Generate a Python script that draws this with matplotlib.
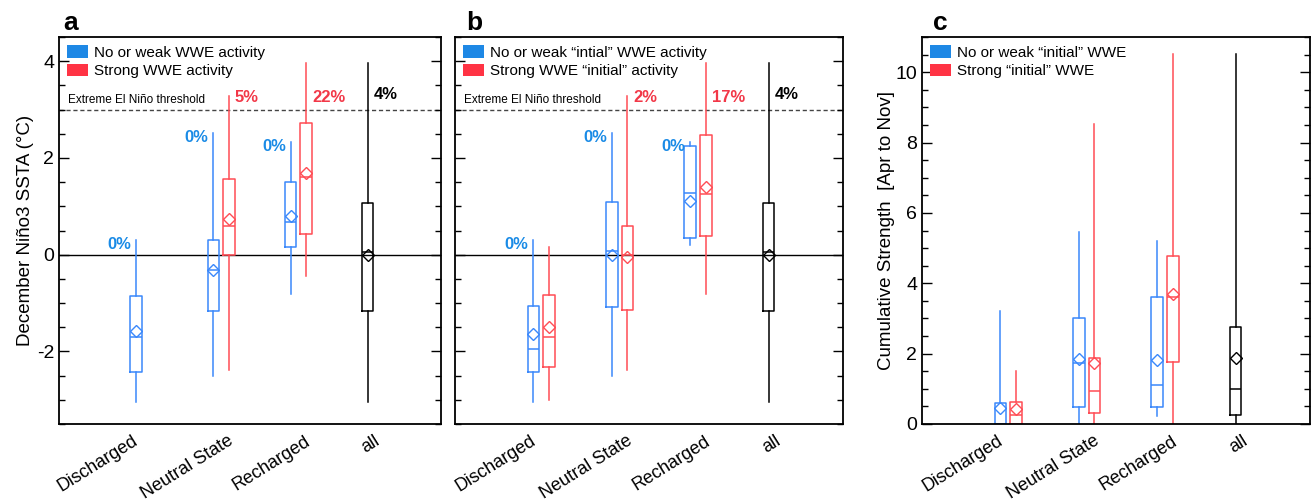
import matplotlib
matplotlib.use("Agg")
import matplotlib.pyplot as plt
from matplotlib.patches import Patch
from matplotlib.ticker import MultipleLocator

plt.rcParams["font.family"] = ["Liberation Sans", "DejaVu Sans"]
plt.rcParams["axes.unicode_minus"] = False

# ── Data (whisker low, q1, median, q3, whisker high, mean) ─────────

categories = ["Discharged", "Neutral State", "Recharged", "all"]

a_weak = [(-3.05, -2.43, -1.70, -0.86, 0.31, -1.57),
          (-2.50, -1.17, -0.31, 0.31, 2.52, -0.31),
          (-0.81, 0.16, 0.67, 1.50, 2.33, 0.80)]
a_strong = [None,
            (-2.38, 0.00, 0.59, 1.57, 3.28, 0.73),
            (-0.45, 0.43, 1.60, 2.73, 3.97, 1.68)]
b_weak = [(-3.05, -2.43, -1.94, -1.07, 0.31, -1.64),
          (-2.50, -1.08, 0.07, 1.08, 2.52, -0.01),
          (0.19, 0.34, 1.28, 2.24, 2.33, 1.10)]
b_strong = [(-3.00, -2.33, -1.70, -0.84, 0.16, -1.50),
            (-2.38, -1.15, 0.00, 0.59, 3.28, -0.05),
            (-0.81, 0.39, 1.26, 2.47, 3.97, 1.40)]
all_ssta = (-3.05, -1.17, 0.05, 1.07, 3.97, -0.01)

c_weak = [(0.00, 0.00, 0.00, 0.59, 3.21, 0.45),
          (0.00, 0.49, 1.72, 3.00, 5.47, 1.86),
          (0.24, 0.49, 1.11, 3.61, 5.20, 1.81)]
c_strong = [(0.00, 0.00, 0.25, 0.63, 1.51, 0.42),
            (0.00, 0.30, 0.94, 1.89, 8.53, 1.72),
            (0.00, 1.77, 3.61, 4.78, 10.53, 3.69)]
all_cws = (0.00, 0.27, 1.00, 2.77, 10.53, 1.89)

a_weak_pct = ["0%", "0%", "0%"]
a_strong_pct = [None, "5%", "22%"]
b_weak_pct = ["0%", "0%", "0%"]
b_strong_pct = [None, "2%", "17%"]
all_pct = "4%"

threshold = 3.0

# ── Style ───────────────────────────────────────────────────────────

BLUE = "#3a88fb"
RED = "#ff4d55"
BLUE_TXT = "#1a8be6"
RED_TXT = "#f23848"
BLUE_LEG = "#1e88e5"
RED_LEG = "#ff3344"

positions = [1.0, 2.0, 3.0, 3.9]
label_pos = [0.85, 2.08, 3.08, 3.98]
offset = 0.1
box_w = 0.15


def draw_box(ax, stat, x, color):
    lo, q1, med, q3, hi, mean = stat
    s = dict(whislo=lo, q1=q1, med=med, q3=q3, whishi=hi, mean=mean, fliers=[])
    ax.bxp([s], positions=[x], widths=box_w, showmeans=True, showcaps=False,
           showfliers=False, manage_ticks=False,
           boxprops=dict(color=color, lw=1.1),
           whiskerprops=dict(color=color, lw=1.1),
           medianprops=dict(color=color, lw=1.1),
           meanprops=dict(marker="D", mfc="none", mec=color, mew=1.0, ms=6))


def add_legend(ax, labels):
    handles = [Patch(facecolor=BLUE_LEG, edgecolor="none", label=labels[0]),
               Patch(facecolor=RED_LEG, edgecolor="none", label=labels[1])]
    ax.legend(handles=handles, loc="upper left", frameon=False, fontsize=11,
              handlelength=1.35, handleheight=0.85, handletextpad=0.4,
              labelspacing=0.25, borderaxespad=0.25, borderpad=0.3)


def style_axes(ax, ylim, major, minor):
    ax.set_xlim(-0.1, 4.85)
    ax.set_ylim(*ylim)
    ax.yaxis.set_major_locator(MultipleLocator(major))
    ax.yaxis.set_minor_locator(MultipleLocator(minor))
    ax.tick_params(axis="y", which="both", direction="in", left=True, right=True, labelsize=14)
    ax.tick_params(axis="y", which="major", length=7, width=1)
    ax.tick_params(axis="y", which="minor", length=4, width=1)
    ax.tick_params(axis="x", length=0, pad=6)
    ax.set_xticks(label_pos)
    ax.set_xticklabels(categories, rotation=32, ha="right", rotation_mode="anchor", fontsize=13)
    for sp in ax.spines.values():
        sp.set_linewidth(1.3)


def ssta_panel(ax, weak, strong, weak_pct, strong_pct, leg_labels):
    ax.axhline(0, color="black", lw=1.0, zorder=1)
    ax.axhline(threshold, color="#444444", lw=1.0, ls=(0, (3, 2)), zorder=1)
    ax.text(0.02, threshold + 0.08, "Extreme El Niño threshold", fontsize=8.5, va="bottom", ha="left")
    for i in range(3):
        xb = positions[i] - offset
        xr = positions[i] + offset
        if weak[i] is not None:
            draw_box(ax, weak[i], xb, BLUE)
            ax.text(xb - 0.06, weak[i][4] - 0.1, weak_pct[i], color=BLUE_TXT,
                    fontsize=12, fontweight="bold", ha="right", va="center")
        if strong[i] is not None:
            draw_box(ax, strong[i], xr, RED)
        if strong_pct[i] is not None:
            ax.text(xr + 0.08, threshold + 0.25, strong_pct[i], color=RED_TXT,
                    fontsize=12, fontweight="bold", ha="left", va="center")
    draw_box(ax, all_ssta, positions[3], "black")
    ax.text(positions[3] + 0.08, threshold + 0.32, all_pct, color="black",
            fontsize=12, fontweight="bold", ha="left", va="center")
    style_axes(ax, (-3.5, 4.5), 2, 0.5)
    add_legend(ax, leg_labels)


# ── Figure ──────────────────────────────────────────────────────────

fig = plt.figure(figsize=(13.14, 5.0), dpi=100)
ax_a = fig.add_axes([0.0449, 0.152, 0.2907, 0.774])
ax_b = fig.add_axes([0.3463, 0.152, 0.2953, 0.774])
ax_c = fig.add_axes([0.7017, 0.152, 0.2953, 0.774])

ssta_panel(ax_a, a_weak, a_strong, a_weak_pct, a_strong_pct,
           ["No or weak WWE activity", "Strong WWE activity"])
ax_a.set_ylabel("December Niño3 SSTA (°C)", fontsize=13.5, labelpad=2)

ssta_panel(ax_b, b_weak, b_strong, b_weak_pct, b_strong_pct,
           ["No or weak \u201cintial\u201d WWE activity", "Strong WWE \u201cinitial\u201d activity"])
ax_b.tick_params(axis="y", labelleft=False)

for i in range(3):
    draw_box(ax_c, c_weak[i], positions[i] - offset, BLUE)
    draw_box(ax_c, c_strong[i], positions[i] + offset, RED)
draw_box(ax_c, all_cws, positions[3], "black")
style_axes(ax_c, (0, 11.0), 2, 0.5)
ax_c.set_ylabel("Cumulative Strength  [Apr to Nov]", fontsize=13.5, labelpad=0)
add_legend(ax_c, ["No or weak \u201cinitial\u201d WWE", "Strong \u201cinitial\u201d WWE"])

for ax, letter, lx in [(ax_a, "a", 0.01), (ax_b, "b", 0.03), (ax_c, "c", 0.028)]:
    ax.text(lx, 1.005, letter, transform=ax.transAxes, fontsize=19,
            fontweight="bold", ha="left", va="bottom")

fig.savefig("out.png", dpi=100)
